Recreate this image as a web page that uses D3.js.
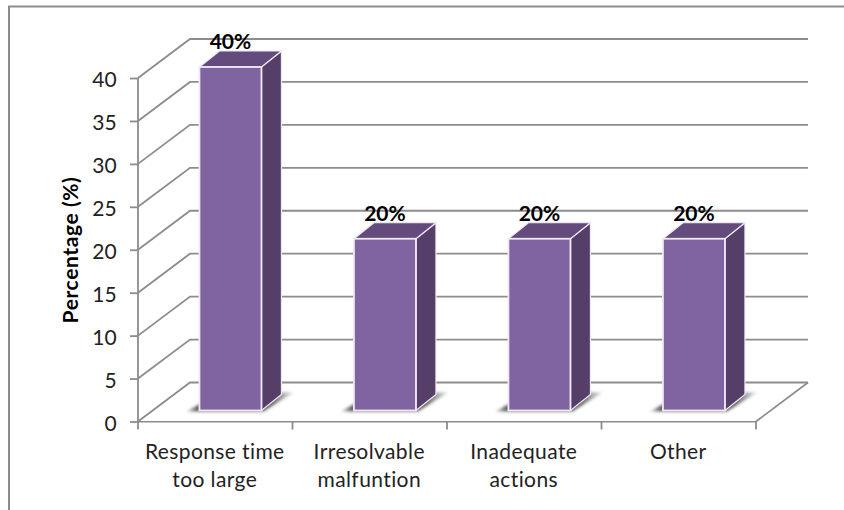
<!DOCTYPE html>
<html>
<head>
<meta charset="utf-8">
<script src="https://cdn.jsdelivr.net/npm/d3@7/dist/d3.min.js"></script>
<style>
  html, body { margin: 0; padding: 0; background: #fff; }
  svg { display: block; }
  text { font-family: Lato, "Open Sans", sans-serif; fill: #222; }
</style>
</head>
<body>
<script>
const categories = ["Response time too large", "Irresolvable malfuntion", "Inadequate actions", "Other"];
const categoryLines = [["Response time", "too large"], ["Irresolvable", "malfuntion"], ["Inadequate", "actions"], ["Other"]];
const percentages = [40, 20, 20, 20];
const valueLabels = ["40%", "20%", "20%", "20%"];
const yTicks = [0, 5, 10, 15, 20, 25, 30, 35, 40];

const width = 844, height = 510;
const plot = { left: 138, right: 756, top: 78, bottom: 421.5 };
const wall = { dx: 52, dy: -39 };      // floor depth: front edge to back wall
const bar = { width: 62, dx: 20, dy: -16, shiftX: 15.2, shiftY: -11 };
const gridColor = "#8c8c8c";

const svg = d3.select("body").append("svg").attr("width", width).attr("height", height);

const defs = svg.append("defs");
const blur = defs.append("filter").attr("id", "soft").attr("x", "-30%").attr("y", "-60%").attr("width", "160%").attr("height", "220%");
blur.append("feGaussianBlur").attr("stdDeviation", 1.8);
const lineSoft = defs.append("filter").attr("id", "lineSoft").attr("x", "-5%").attr("y", "-5%").attr("width", "110%").attr("height", "110%");
lineSoft.append("feGaussianBlur").attr("stdDeviation", 0.4);
const shadowFade = defs.append("linearGradient").attr("id", "shadowFade").attr("x1", 0).attr("x2", 1).attr("y1", 0).attr("y2", 0);
shadowFade.append("stop").attr("offset", "0%").attr("stop-color", "#777").attr("stop-opacity", 0.35);
shadowFade.append("stop").attr("offset", "9%").attr("stop-color", "#555").attr("stop-opacity", 0.9);
shadowFade.append("stop").attr("offset", "80%").attr("stop-color", "#555").attr("stop-opacity", 0.9);
shadowFade.append("stop").attr("offset", "100%").attr("stop-color", "#777").attr("stop-opacity", 0.25);

// Outer chart frame, open on the right and bottom page edges
svg.append("path")
  .attr("d", `M9,${height} V6.5 H${width}`)
  .attr("fill", "none").attr("stroke", gridColor).attr("stroke-width", 2);

const x = d3.scaleBand().domain(categories).range([plot.left, plot.right]);
const y = d3.scaleLinear().domain([0, 40]).range([plot.bottom, plot.top]);

// Back wall gridlines, side wall diagonals and the floor
const frame = svg.append("g").attr("fill", "none").attr("stroke", gridColor).attr("stroke-width", 1.8).attr("filter", "url(#lineSoft)");
frame.selectAll("path.grid").data(yTicks).join("path")
  .attr("class", "grid")
  .attr("d", t => `M${x.range()[0]},${y(t)} l${wall.dx},${wall.dy} H${x.range()[1] + wall.dx}`);
frame.append("path")
  .attr("d", `M${plot.right},${y(0)} l${wall.dx},${wall.dy}`);

// Value axis
const yAxis = d3.axisLeft(y).tickValues(yTicks).tickSize(8).tickPadding(13);
const yG = svg.append("g").attr("transform", `translate(${plot.left},0)`).call(yAxis);
yG.select(".domain").attr("stroke", gridColor).attr("stroke-width", 1.8).attr("d", `M0,${y(40)} V${y(0)}`);
yG.selectAll(".tick line").attr("stroke", gridColor).attr("stroke-width", 1.8);
yG.selectAll(".tick text")
  .style("font-size", "21px").style("letter-spacing", "0.2px")
  .attr("fill", "#222").attr("dy", "0.42em");

// Category axis: ticks sit on the band edges, labels wrap onto two lines
const edges = categories.map(c => x(c)).concat(plot.right);
const xG = svg.append("g").attr("filter", "url(#lineSoft)");
xG.append("line").attr("x1", plot.left - 1).attr("x2", plot.right).attr("y1", y(0)).attr("y2", y(0))
  .attr("stroke", gridColor).attr("stroke-width", 1.8);
xG.selectAll("line.edge").data(edges).join("line")
  .attr("class", "edge")
  .attr("x1", d => d).attr("x2", d => d)
  .attr("y1", y(0)).attr("y2", y(0) + 8)
  .attr("stroke", gridColor).attr("stroke-width", 1.8);
svg.append("g").selectAll("text.cat").data(categories).join("text")
  .attr("class", "cat")
  .attr("text-anchor", "middle")
  .style("font-size", "21px").style("letter-spacing", "0.4px")
  .each(function (c, i) {
    d3.select(this).selectAll("tspan").data(categoryLines[i]).join("tspan")
      .attr("x", x(c) + x.bandwidth() / 2 - 0.5)
      .attr("y", (d, j) => 459 + j * 28)
      .text(d => d);
  });

// 3-D bars drawn from their values
const bars = svg.append("g").selectAll("g").data(categories).join("g");
const frontX = c => x(c) + x.bandwidth() / 2 + bar.shiftX - bar.width / 2;
const topY = i => y(percentages[i]) + bar.shiftY;
const baseY = y(0) + bar.shiftY;

bars.append("path")
  .attr("d", c => {
    const l = frontX(c);
    return `M${l - 13},${baseY + 1} L${l + bar.width + 2},${baseY + 1} L${l + bar.width + 32},${baseY - 18} L${l + bar.width + 8},${baseY - 18} L${l + 10},${baseY - 12} Z`;
  })
  .attr("fill", "url(#shadowFade)").attr("filter", "url(#soft)");

bars.append("path")
  .attr("d", (c, i) => {
    const l = frontX(c) + bar.width;
    return `M${l},${topY(i)} l${bar.dx},${bar.dy} V${baseY + bar.dy} l${-bar.dx},${-bar.dy} Z`;
  })
  .attr("fill", "#553f69").attr("stroke", "#efe9f4").attr("stroke-width", 1.2);

bars.append("path")
  .attr("d", (c, i) => {
    const l = frontX(c);
    return `M${l},${topY(i)} l${bar.dx},${bar.dy} h${bar.width} l${-bar.dx},${-bar.dy} Z`;
  })
  .attr("fill", "#634c7d").attr("stroke", "#efe9f4").attr("stroke-width", 1.2);

bars.append("rect")
  .attr("x", frontX)
  .attr("y", (c, i) => topY(i))
  .attr("width", bar.width)
  .attr("height", (c, i) => baseY - topY(i))
  .attr("fill", "#8064a2").attr("stroke", "#efe9f4").attr("stroke-width", 1.8);

// Value labels above each bar
bars.append("text")
  .attr("x", c => frontX(c) + bar.width / 2)
  .attr("y", (c, i) => topY(i) + bar.dy - 2)
  .attr("text-anchor", "middle")
  .style("font-size", "21px").style("font-weight", 700).style("fill", "#000")
  .text((c, i) => valueLabels[i]);

// Value axis title
svg.append("text")
  .attr("transform", "translate(77.5,250) rotate(-90)")
  .attr("text-anchor", "middle")
  .style("font-size", "21px").style("font-weight", 700).style("fill", "#000").style("letter-spacing", "0.6px")
  .text("Percentage (%)");
</script>
</body>
</html>
